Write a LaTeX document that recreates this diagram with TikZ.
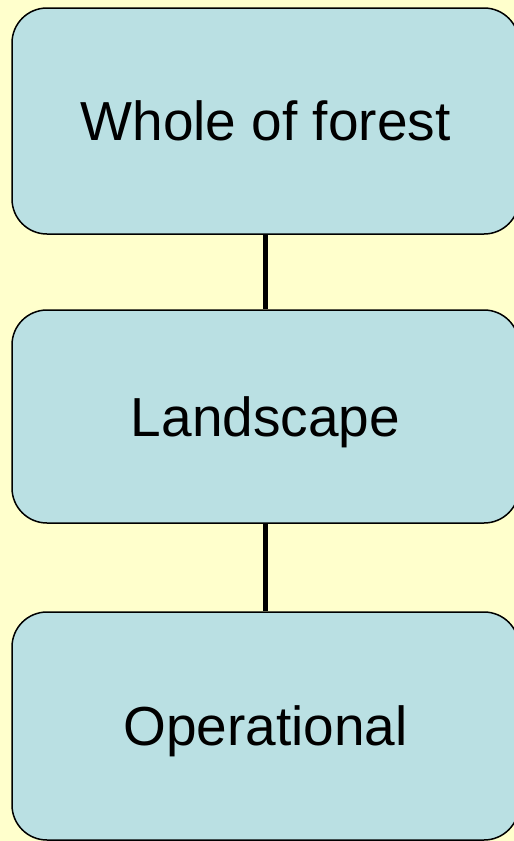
\documentclass[tikz,border=0pt]{standalone}
\usepackage{fontspec}
\setmainfont{Liberation Sans}
\usetikzlibrary{positioning}
\definecolor{bgyellow}{HTML}{FFFFCC}
\definecolor{boxblue}{HTML}{BAE0E3}

\begin{document}
\begin{tikzpicture}[
  x=1pt, y=-1pt,
  level/.style={draw, line width=1.5pt, fill=boxblue, rounded corners=35pt,
    minimum width=507pt, inner sep=0pt, text height=39.5pt, text depth=0pt,
    font=\fontsize{55}{60}\selectfont},
  link/.style={draw, line width=5pt}
]
  % background
  \fill[bgyellow] (0,0) rectangle (514,841);
  \useasboundingbox (0,0) rectangle (514,841);

  % levels
  \node[level, minimum height=226pt] (forest) at (265.5,121) {Whole of forest};
  \node[level, minimum height=213pt] (landscape) at (265.5,416.5) {Landscape};
  \node[level, minimum height=228pt] (operational) at (265.5,726) {Operational};

  % links
  \draw[link] (forest.south) -- (landscape.north);
  \draw[link] (landscape.south) -- (operational.north);
\end{tikzpicture}
\end{document}
